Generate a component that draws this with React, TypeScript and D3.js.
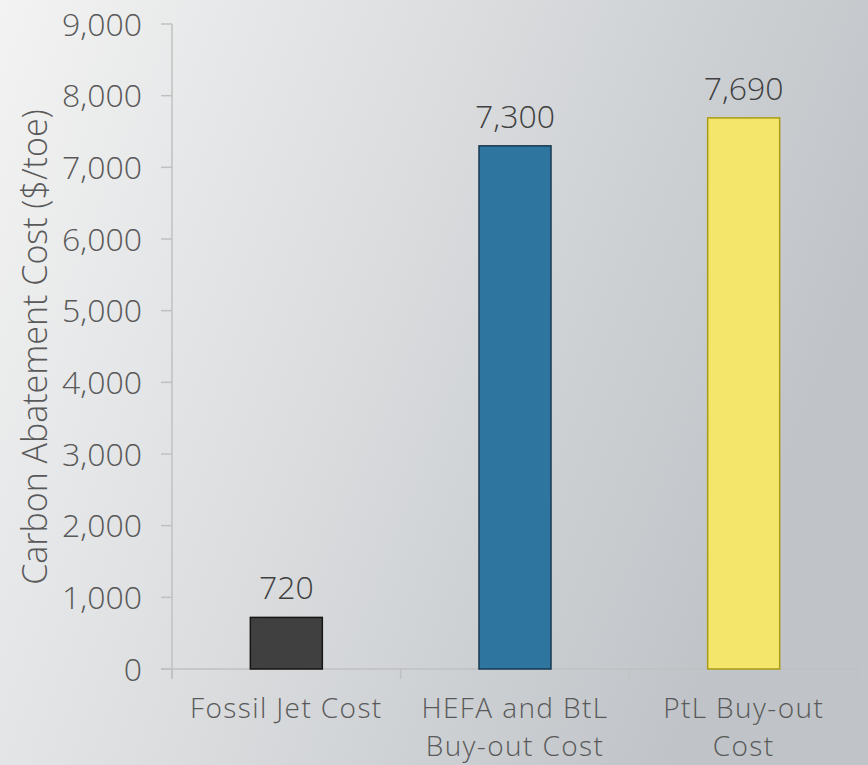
import React from "react";
import * as d3 from "d3";

const categories: string[][] = [
  ["Fossil Jet Cost"],
  ["HEFA and BtL", "Buy-out Cost"],
  ["PtL Buy-out", "Cost"],
];
const values: number[] = [720, 7300, 7690];
const barFills: string[] = ["#404040", "#2e76a0", "#f4e66a"];
const barStrokes: string[] = ["#161616", "#173a52", "#a99b14"];
const yTicks: number[] = [0, 1000, 2000, 3000, 4000, 5000, 6000, 7000, 8000, 9000];
const yTitle = "Carbon Abatement Cost ($/toe)";

const W = 868;
const H = 765;
const FONT = "'Open Sans', 'DejaVu Sans', sans-serif";

export default function App() {
  const x0 = 172;
  const x1 = 858;
  const yTop = 24;
  const yBase = 669;

  const x = d3
    .scaleBand<number>()
    .domain(values.map((_, i) => i))
    .range([x0, x1])
    .paddingInner(0)
    .paddingOuter(0);
  const y = d3.scaleLinear().domain([0, 9000]).range([yBase, yTop]);
  const fmt = d3.format(",");
  const barW = 72;

  return (
    <svg
      width={W}
      height={H}
      style={{ position: "fixed", left: 0, top: 0, display: "block" }}
      fontFamily={FONT}
      fontWeight={300}
    >
      <defs>
        <linearGradient id="bg" x1="0" y1="0" x2="1" y2="0.35">
          <stop offset="0" stopColor="#f3f3f3" />
          <stop offset="0.5" stopColor="#dadcde" />
          <stop offset="1" stopColor="#c0c4c8" />
        </linearGradient>
      </defs>
      <rect x={0} y={0} width={W} height={H} fill="url(#bg)" />

      {/* y axis */}
      <line x1={x0} x2={x0} y1={yTop} y2={yBase + 10} stroke="#c0c0c0" strokeWidth={1.5} />
      {yTicks.map((t) => (
        <g key={t}>
          <line x1={x0 - 11} x2={x0} y1={y(t)} y2={y(t)} stroke="#c0c0c0" strokeWidth={1.5} />
          <text
            x={x0 - 30}
            y={y(t)}
            dy="0.36em"
            textAnchor="end"
            fontSize={32}
            fill="#595959"
          >
            {fmt(t)}
          </text>
        </g>
      ))}
      <text
        transform={`translate(47, 347) rotate(-90)`}
        textAnchor="middle"
        fontSize={34}
        fill="#595959"
      >
        {yTitle}
      </text>

      {/* x axis */}
      <line x1={x0 - 11} x2={x1} y1={yBase} y2={yBase} stroke="#c0c0c0" strokeWidth={1.5} />
      {[0, 1, 2, 3].map((i) => {
        const xx = i < 3 ? (x(i) as number) : x1;
        return (
          <line key={i} x1={xx} x2={xx} y1={yBase} y2={yBase + 10} stroke="#c0c0c0" strokeWidth={1.5} />
        );
      })}

      {/* bars */}
      {values.map((v, i) => {
        const cx = (x(i) as number) + x.bandwidth() / 2;
        return (
          <g key={i}>
            <rect
              x={cx - barW / 2}
              y={y(v)}
              width={barW}
              height={yBase - y(v)}
              fill={barFills[i]}
              stroke={barStrokes[i]}
              strokeWidth={1.5}
            />
            <text
              x={cx}
              y={y(v) - 18}
              textAnchor="middle"
              fontSize={32}
              fill="#404040"
            >
              {fmt(v)}
            </text>
            {categories[i].map((line, j) => (
              <text
                key={j}
                x={cx}
                y={718 + j * 38}
                textAnchor="middle"
                fontSize={28}
                letterSpacing={1.4}
                fill="#595959"
              >
                {line}
              </text>
            ))}
          </g>
        );
      })}
    </svg>
  );
}
